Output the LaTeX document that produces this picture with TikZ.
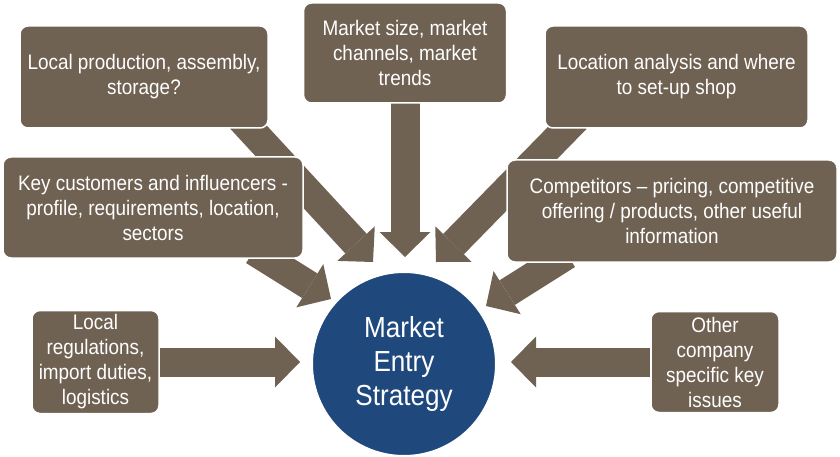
\documentclass[tikz,border=0pt]{standalone}
\usepackage{fontspec}
\setmainfont{Liberation Sans}[FakeStretch=0.9]
\usepackage{xcolor}
\usepackage{tikz}
\usetikzlibrary{arrows.meta,backgrounds}
\definecolor{taupe}{HTML}{706253}
\definecolor{navy}{HTML}{1F497D}

\begin{document}
\begin{tikzpicture}[x=1pt,y=-1pt,
box/.style={draw=white,line width=1.5pt,rounded corners=8pt,fill=taupe,text=white,align=center,inner sep=0pt,font=\fontsize{21}{25}\selectfont},
hub/.style={circle,draw=white,line width=2pt,fill=navy,text=white,align=center,inner sep=0pt,minimum size=184pt,font=\fontsize{29}{34}\selectfont},
arr/.style={draw=taupe,line width=29pt,-{Triangle[length=25pt,width=51pt,line width=0pt]}}]
\useasboundingbox (0,0) rectangle (840,457);
\node[hub] (hub) at (404,364) {Market\\Entry\\Strategy};
\node[box,minimum width=248pt,minimum height=102pt] (prod) at (144,77) {Local production, assembly,\\storage?};
\node[box,minimum width=203pt,minimum height=100pt] (size) at (405,53) {Market size, market\\channels, market\\trends};
\node[box,minimum width=263pt,minimum height=102pt] (site) at (676.5,77) {Location analysis and where\\to set-up shop};
\node[box,minimum width=300pt,minimum height=101pt] (cust) at (153,207.5) {Key customers and influencers -\\profile, requirements, location,\\sectors};
\node[box,minimum width=330pt,minimum height=102pt] (comp) at (672,211) {Competitors -- pricing, competitive\\offering / products, other useful\\information};
\node[box,minimum width=127pt,minimum height=103pt] (regs) at (95.5,362) {Local\\regulations,\\import duties,\\logistics};
\node[box,minimum width=128pt,minimum height=101pt] (other) at (715,362) {Other\\company\\specific key\\issues};
% arrow tips short of the hub
\coordinate (tprod) at (373,262);
\coordinate (tsize) at (405,257);
\coordinate (tsite) at (436,262);
\coordinate (tcust) at (331,299);
\coordinate (tcomp) at (486,306);
\coordinate (tregs) at (300,362);
\coordinate (tother) at (511,362);
\begin{scope}[on background layer]
\draw[arr] ([xshift=-28pt,yshift=10pt]prod.south east) -- (tprod);
\draw[arr] ([yshift=10pt]size.south) -- (tsize);
\draw[arr] ([xshift=32pt,yshift=10pt]site.south west) -- (tsite);
\draw[arr] ([xshift=-50pt,yshift=8pt]cust.south east) -- (tcust);
\draw[arr] ([xshift=61pt,yshift=8pt]comp.south west) -- (tcomp);
\draw[arr] (regs) -- (tregs);
\draw[arr] (other) -- (tother);
\end{scope}
\end{tikzpicture}
\end{document}
